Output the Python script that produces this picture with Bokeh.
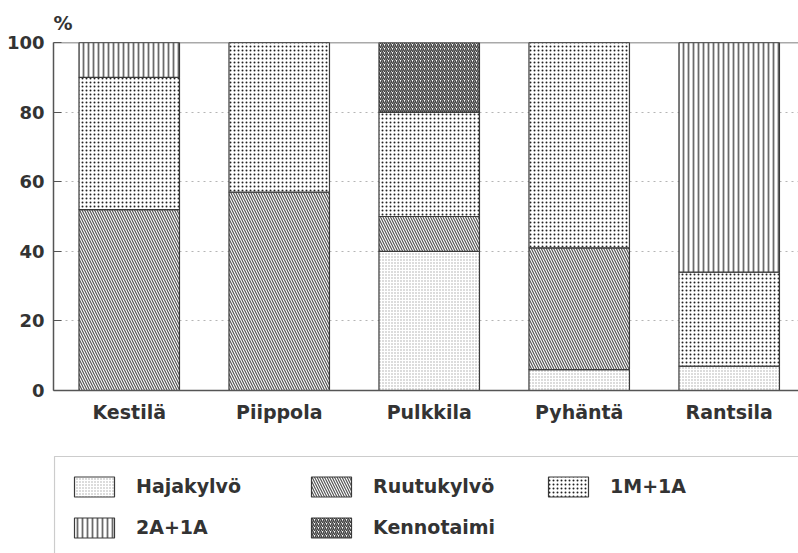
from bokeh.plotting import figure
from bokeh.layouts import column
from bokeh.models import (Range1d, FixedTicker, Legend, LegendItem, Title,
                          BoxAnnotation, Span, ColumnDataSource)
from bokeh.embed import file_html
from bokeh.resources import INLINE

# ---- data ----
municipalities = ["Kestilä", "Piippola", "Pulkkila", "Pyhäntä", "Rantsila"]
series_names = ["Hajakylvö", "Ruutukylvö", "1M+1A", "2A+1A", "Kennotaimi"]
hajakylvo = [0, 0, 40, 6, 7]
ruutukylvo = [52, 57, 10, 35, 0]
m1_a1 = [38, 43, 30, 59, 27]
a2_a1 = [10, 0, 0, 0, 66]
kennotaimi = [0, 0, 20, 0, 0]
y_ticks = [0, 20, 40, 60, 80, 100]
legend_order = ["Hajakylvö", "Ruutukylvö", "1M+1A", "2A+1A", "Kennotaimi"]

# ---- styles ----
FONT = "DejaVu Sans"
TXT = "#333333"
AX = "#555555"
styles = {
    "Hajakylvö":  dict(hatch_pattern="dot", hatch_color="#a8a8a8", hatch_scale=3, hatch_weight=1),
    "Ruutukylvö": dict(hatch_pattern="left_diagonal_line", hatch_color="#555555", hatch_scale=5, hatch_weight=1.2),
    "1M+1A":      dict(hatch_pattern="dot", hatch_color="#222222", hatch_scale=4, hatch_weight=2),
    "2A+1A":      dict(hatch_pattern="vertical_line", hatch_color="#6a6a6a", hatch_scale=5, hatch_weight=1.8),
    "Kennotaimi": dict(hatch_pattern="right_diagonal_line", hatch_color="#404040", hatch_scale=4, hatch_weight=1.5),
}

keys = ["haja", "ruutu", "m1a1", "a2a1", "kenno"]
src = ColumnDataSource(dict(
    x=list(range(len(municipalities))),
    haja=hajakylvo, ruutu=ruutukylvo, m1a1=m1_a1, a2a1=a2_a1, kenno=kennotaimi,
))

W = 798
H1 = 440
H2 = 553 - H1


def stack(fig, **extra):
    return fig.vbar_stack(
        keys, x="x", width=0.67, source=src,
        fill_color="white",
        line_color="#3a3a3a", line_width=1.2,
        hatch_pattern=[styles[n]["hatch_pattern"] for n in series_names],
        hatch_color=[styles[n]["hatch_color"] for n in series_names],
        hatch_scale=[styles[n]["hatch_scale"] for n in series_names],
        hatch_weight=[styles[n]["hatch_weight"] for n in series_names],
        **extra,
    )


p = figure(width=W, height=H1, output_backend="svg", toolbar_location=None,
           x_range=Range1d(-0.505, 4.462), y_range=Range1d(0, 100),
           min_border_left=53, min_border_right=0, min_border_top=42,
           min_border_bottom=50)
p.outline_line_color = None
p.background_fill_color = "white"
p.border_fill_color = "white"

stack(p)

# axes
p.yaxis.ticker = FixedTicker(ticks=y_ticks)
p.yaxis.major_tick_in = 8
p.yaxis.major_tick_out = 0
p.yaxis.minor_tick_line_color = None
p.yaxis.major_label_standoff = 9
p.yaxis.major_label_text_font = FONT
p.yaxis.major_label_text_font_style = "bold"
p.yaxis.major_label_text_font_size = "18px"
p.yaxis.major_label_text_color = TXT
p.yaxis.axis_line_color = AX
p.yaxis.axis_line_width = 1.5
p.yaxis.major_tick_line_color = AX
p.yaxis.major_tick_line_width = 1.2

p.xaxis.ticker = FixedTicker(ticks=list(range(len(municipalities))))
p.xaxis.major_label_overrides = {i: m for i, m in enumerate(municipalities)}
p.xaxis.major_tick_in = 0
p.xaxis.major_tick_out = 0
p.xaxis.minor_tick_line_color = None
p.xaxis.major_label_standoff = 10
p.xaxis.major_label_text_font = FONT
p.xaxis.major_label_text_font_style = "bold"
p.xaxis.major_label_text_font_size = "19px"
p.xaxis.major_label_text_color = TXT
p.xaxis.axis_line_color = AX
p.xaxis.axis_line_width = 1.5

p.xgrid.visible = False
p.ygrid.ticker = FixedTicker(ticks=[t for t in y_ticks if 0 < t < 100])
p.ygrid.grid_line_color = "#b5b5b5"
p.ygrid.grid_line_dash = "dotted"
p.ygrid.grid_line_width = 1

p.add_layout(Span(location=100, dimension="width", line_color=AX, line_width=1.5))

p.title = Title(text="%", align="left", text_font=FONT, text_font_style="bold",
                text_font_size="19px", text_color=TXT, standoff=17)

# ---- legend panel ----
q = figure(width=W, height=H2, output_backend="svg", toolbar_location=None,
           x_range=Range1d(0, 1), y_range=Range1d(0, 1),
           min_border_left=52, min_border_right=0, min_border_top=15,
           min_border_bottom=0)
q.outline_line_color = None
q.axis.visible = False
q.grid.visible = False
q.background_fill_color = "white"
q.border_fill_color = "white"

legend_renderers = stack(q, visible=False)
by_name = dict(zip(series_names, legend_renderers))
items = [LegendItem(label=n, renderers=[by_name[n]]) for n in legend_order]

legend = Legend(items=items, location=(16, 13.5), ncols=3,
                orientation="horizontal",
                glyph_width=50, glyph_height=25, label_standoff=17,
                label_width=154, label_height=20, spacing=16, padding=0,
                margin=0, border_line_color=None, background_fill_alpha=0,
                label_text_font=FONT, label_text_font_style="bold",
                label_text_font_size="19px", label_text_color=TXT,
                label_text_baseline="middle")
q.add_layout(legend, "center")

frame_w = W - 52
frame_h = H2 - 15
q.add_layout(BoxAnnotation(left=1.0 / frame_w, right=2, top=1 - 1.0 / frame_h,
                           bottom=-1, fill_alpha=0, line_color=AX, line_width=1.2))

open("out.html", "w").write(file_html(column(p, q, spacing=0), INLINE))
